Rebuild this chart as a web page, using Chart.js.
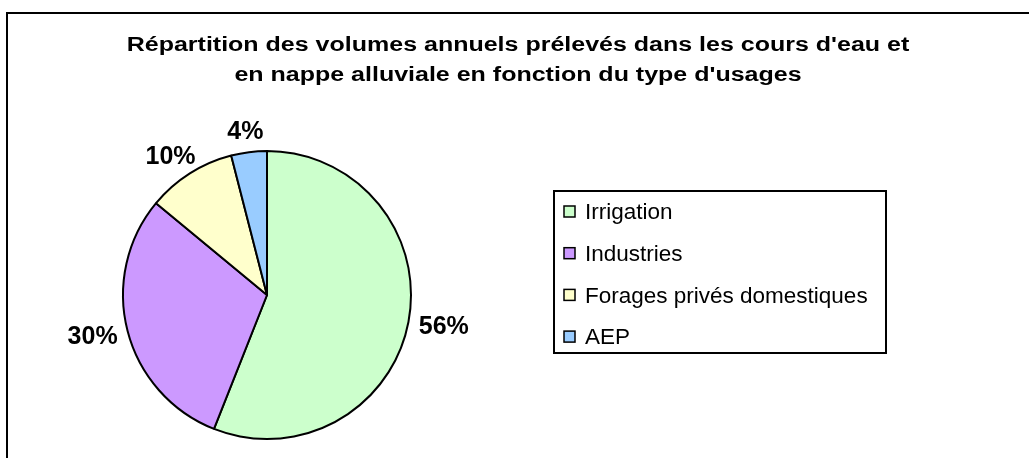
<!DOCTYPE html>
<html>
<head>
<meta charset="utf-8">
<script src="https://cdn.jsdelivr.net/npm/chart.js@4.4.0/dist/chart.umd.min.js"></script>
<style>
  html, body { margin: 0; padding: 0; background: #fff; }
  #wrap { width: 1029px; height: 458px; }
</style>
</head>
<body>
<div id="wrap"><canvas id="chart" width="1029" height="458"></canvas></div>
<script>
// Chart data
const titleLines = [
  "Répartition des volumes annuels prélevés dans les cours d'eau et",
  "en nappe alluviale en fonction du type d'usages",
];
const usages = ['Irrigation', 'Industries', 'Forages privés domestiques', 'AEP'];
const shares = [56, 30, 10, 4];
const sliceColors = ['#CCFFCC', '#CC99FF', '#FFFFCC', '#99CCFF'];

const FONT = "'Liberation Sans', Arial, sans-serif";

// Outer frame + title (Excel-style chart object)
const framePlugin = {
  id: 'frame',
  beforeDraw(chart) {
    const ctx = chart.ctx;
    ctx.save();
    ctx.strokeStyle = '#000';
    ctx.lineWidth = 2;
    ctx.strokeRect(7, 13, 1100, 600);
    ctx.fillStyle = '#000';
    ctx.font = 'bold 20px ' + FONT;
    ctx.textAlign = 'center';
    ctx.textBaseline = 'alphabetic';
    // the original title is rendered a bit wide, stretch it horizontally
    ctx.translate(518, 0);
    ctx.scale(1.25, 1);
    titleLines.forEach((line, i) => ctx.fillText(line, 0, 51 + i * 30));
    ctx.restore();
  },
};

// Percentage labels outside each slice
const labelPlugin = {
  id: 'sliceLabels',
  afterDatasetsDraw(chart) {
    const ctx = chart.ctx;
    const meta = chart.getDatasetMeta(0);
    const total = shares.reduce((a, b) => a + b, 0);
    ctx.save();
    ctx.font = 'bold 25px ' + FONT;
    ctx.fillStyle = '#000';
    ctx.textAlign = 'center';
    ctx.textBaseline = 'middle';
    meta.data.forEach((arc, i) => {
      const p = arc.getProps(['x', 'y', 'startAngle', 'endAngle', 'outerRadius'], true);
      const mid = (p.startAngle + p.endAngle) / 2;
      const text = Math.round(shares[i] / total * 100) + '%';
      const w = ctx.measureText(text).width;
      const r = p.outerRadius + 11;
      const x = p.x + Math.cos(mid) * (r + w / 2);
      const y = p.y + Math.sin(mid) * (r + 10);
      ctx.fillText(text, x, y + 1);
    });
    ctx.restore();
  },
};

// Boxed legend on the right
const legendPlugin = {
  id: 'boxLegend',
  afterDraw(chart) {
    const ctx = chart.ctx;
    const ds = chart.data.datasets[0];
    ctx.save();
    ctx.strokeStyle = '#000';
    ctx.lineWidth = 2;
    ctx.strokeRect(554, 191, 332, 162);
    ctx.font = '22.5px ' + FONT;
    ctx.textBaseline = 'middle';
    ctx.textAlign = 'left';
    chart.data.labels.forEach((lab, i) => {
      const cy = 212 + i * 41.7;
      ctx.fillStyle = ds.backgroundColor[i];
      ctx.fillRect(564, cy - 6, 11, 11);
      ctx.lineWidth = 1.5;
      ctx.strokeStyle = '#000';
      ctx.strokeRect(564, cy - 6, 11, 11);
      ctx.fillStyle = '#000';
      ctx.fillText(lab, 585, cy + 1);
    });
    ctx.restore();
  },
};

const chart = new Chart(document.getElementById('chart'), {
  type: 'pie',
  data: {
    labels: usages,
    datasets: [
      {
        data: shares,
        backgroundColor: sliceColors,
        borderColor: '#000',
        borderWidth: 2,
      },
    ],
  },
  options: {
    responsive: false,
    animation: false,
    devicePixelRatio: 1,
    layout: {
      padding: { left: 7, right: 502, top: 150, bottom: 18 },
    },
    plugins: {
      legend: { display: false },
      title: { display: false },
      tooltip: { enabled: false },
    },
  },
  plugins: [framePlugin, labelPlugin, legendPlugin],
});
</script>
</body>
</html>
